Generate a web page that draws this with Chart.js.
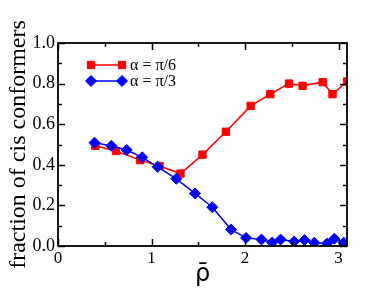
<!DOCTYPE html>
<html>
<head>
<meta charset="utf-8">
<script src="https://cdn.jsdelivr.net/npm/chart.js@4"></script>
<style>
  html, body { margin: 0; padding: 0; background: #fff; }
  canvas { display: block; }
</style>
</head>
<body>
<canvas id="cisChart" width="374" height="289"></canvas>
<script>
// alpha = pi/6 series
const rhoA = [0.40, 0.62, 0.88, 1.085, 1.31, 1.545, 1.795, 2.06, 2.27, 2.47, 2.615, 2.83, 2.935, 3.09];
const fracA = [0.494, 0.468, 0.423, 0.394, 0.357, 0.45, 0.563, 0.69, 0.748, 0.80, 0.789, 0.807, 0.748, 0.81];
// alpha = pi/3 series
const rhoB = [0.39, 0.57, 0.735, 0.90, 1.065, 1.265, 1.465, 1.65, 1.85, 2.01, 2.175, 2.29, 2.38, 2.525, 2.635, 2.74, 2.875, 2.955, 3.055];
const fracB = [0.509, 0.494, 0.473, 0.437, 0.39, 0.331, 0.259, 0.191, 0.081, 0.04, 0.032, 0.017, 0.032, 0.022, 0.029, 0.016, 0.012, 0.036, 0.016];

const seriesLabels = ['α = π/6', 'α = π/3'];
const xMajor = [0, 1, 2, 3];
const xMinor = [0.5, 1.5, 2.5];
const yMajor = [0, 0.2, 0.4, 0.6, 0.8, 1.0];
const yMinor = [0.1, 0.3, 0.5, 0.7, 0.9];

const serif = "'Liberation Serif', 'Times New Roman', serif";

function toPoints(xs, ys) {
  return xs.map((x, i) => ({ x: x, y: ys[i] }));
}

// inward ticks on all four sides plus the frame
const frameTicks = {
  id: 'frameTicks',
  afterDraw(chart) {
    const ctx = chart.ctx;
    const a = chart.chartArea;
    const xs = chart.scales.x, ys = chart.scales.y;
    ctx.save();
    ctx.strokeStyle = '#000';
    ctx.lineWidth = 1.5;
    ctx.beginPath();
    const tick = (len, vals, isX) => {
      vals.forEach(v => {
        if (isX) {
          const p = Math.round(xs.getPixelForValue(v)) + 0.5;
          ctx.moveTo(p, a.bottom); ctx.lineTo(p, a.bottom - len);
          ctx.moveTo(p, a.top); ctx.lineTo(p, a.top + len);
        } else {
          const p = Math.round(ys.getPixelForValue(v)) + 0.5;
          ctx.moveTo(a.left, p); ctx.lineTo(a.left + len, p);
          ctx.moveTo(a.right, p); ctx.lineTo(a.right - len, p);
        }
      });
    };
    tick(7, xMajor, true);
    tick(4, xMinor, true);
    tick(7, yMajor, false);
    tick(4, yMinor, false);
    ctx.stroke();
    ctx.lineWidth = 1.8;
    ctx.strokeRect(a.left, a.top, a.right - a.left, a.bottom - a.top);
    ctx.restore();
  }
};

// legend inside the plot: line sample with a marker at each end
const lineLegend = {
  id: 'lineLegend',
  afterDraw(chart) {
    const ctx = chart.ctx;
    const x0 = 91, x1 = 122, rows = [65, 81];
    const sets = [chart.data.datasets[1], chart.data.datasets[0]];
    ctx.save();
    sets.forEach((ds, i) => {
      const y = rows[i];
      ctx.strokeStyle = ds.borderColor;
      ctx.lineWidth = ds.borderWidth;
      ctx.beginPath();
      ctx.moveTo(x0, y); ctx.lineTo(x1, y);
      ctx.stroke();
      [x0, x1].forEach(px => {
        ctx.fillStyle = ds.pointBackgroundColor;
        ctx.strokeStyle = ds.pointBorderColor;
        ctx.lineWidth = ds.pointBorderWidth;
        Chart.helpers.drawPoint(ctx, {
          pointStyle: ds.pointStyle, radius: ds.pointRadius, rotation: 0, borderWidth: ds.pointBorderWidth
        }, px, y);
      });
      ctx.fillStyle = '#000';
      ctx.font = '16px ' + serif;
      ctx.textBaseline = 'middle';
      ctx.textAlign = 'left';
      ctx.fillText(ds.label, 130, y + 1);
    });
    ctx.restore();
  }
};

new Chart(document.getElementById('cisChart'), {
  type: 'line',
  data: {
    datasets: [
      {
        label: seriesLabels[1],
        data: toPoints(rhoB, fracB),
        borderColor: '#0000ff',
        backgroundColor: '#0000ff',
        pointBackgroundColor: '#0000ff',
        pointBorderColor: '#0000ff',
        pointBorderWidth: 1,
        pointStyle: 'rectRot',
        pointRadius: 5.5,
        borderWidth: 1.5,
        order: 0
      },
      {
        label: seriesLabels[0],
        data: toPoints(rhoA, fracA),
        borderColor: '#ff0000',
        backgroundColor: '#ff0000',
        pointBackgroundColor: '#ff0000',
        pointBorderColor: '#ff0000',
        pointBorderWidth: 1,
        pointStyle: 'rect',
        pointRadius: 5.2,
        borderWidth: 1.5,
        order: 1
      }
    ]
  },
  options: {
    responsive: false,
    animation: false,
    layout: { padding: { top: 43, right: 27, left: 0, bottom: 0 } },
    plugins: {
      legend: { display: false },
      tooltip: { enabled: false }
    },
    scales: {
      x: {
        type: 'linear',
        min: 0,
        max: 3.09,
        afterFit(s) { s.height = 43; },
        afterBuildTicks(s) { s.ticks = xMajor.map(v => ({ value: v })); },
        grid: { display: false, drawTicks: false },
        border: { display: false },
        ticks: {
          color: '#000',
          font: { family: serif, size: 17 },
          padding: 2,
          maxRotation: 0,
          callback: v => String(v)
        },
        title: {
          display: true,
          text: 'ρ̄',
          color: '#000',
          font: { family: "'DejaVu Sans', sans-serif", size: 24 },
          padding: { top: 0, bottom: 0 }
        }
      },
      y: {
        min: 0,
        max: 1,
        afterFit(s) { s.width = 58; },
        afterBuildTicks(s) { s.ticks = yMajor.map(v => ({ value: v })); },
        grid: { display: false, drawTicks: false },
        border: { display: false },
        ticks: {
          color: '#000',
          font: { family: serif, size: 18 },
          padding: 3,
          callback: v => v.toFixed(1)
        },
        title: {
          display: true,
          text: 'fraction of cis conformers',
          color: '#000',
          font: { family: serif, size: 24 },
          padding: { top: 4, bottom: 0 }
        }
      }
    }
  },
  plugins: [frameTicks, lineLegend]
});
</script>
</body>
</html>
